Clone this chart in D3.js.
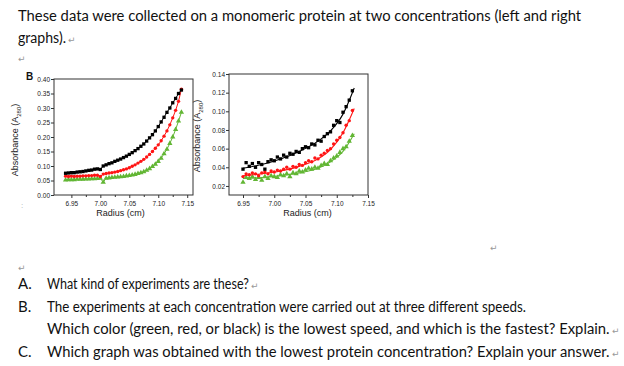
<!DOCTYPE html>
<html><head><meta charset="utf-8">
<script src="https://cdn.jsdelivr.net/npm/d3@7"></script>
<style>
html,body{margin:0;padding:0;background:#fff;}
svg{display:block;}
</style></head>
<body>
<svg id="page" width="624" height="366"></svg>
<script>
// ---- left graph (higher concentration) ----
const left_radius = [6.940, 6.945, 6.950, 6.955, 6.960, 6.965, 6.970, 6.975, 6.980, 6.985,
    6.990, 6.995, 7.000, 7.005, 7.010, 7.015, 7.020, 7.025, 7.030, 7.035,
    7.040, 7.045, 7.050, 7.055, 7.060, 7.065, 7.070, 7.075, 7.080, 7.085,
    7.090, 7.095, 7.100, 7.105, 7.110, 7.115, 7.120, 7.125, 7.130, 7.135, 7.140];
const left_black = [0.075, 0.076, 0.077, 0.077, 0.079, 0.080, 0.081, 0.083, 0.085, 0.086,
    0.089, 0.090, 0.088, 0.100, 0.104, 0.108, 0.111, 0.116, 0.120, 0.124,
    0.129, 0.134, 0.140, 0.146, 0.153, 0.160, 0.168, 0.176, 0.186, 0.197,
    0.208, 0.221, 0.236, 0.252, 0.268, 0.285, 0.300, 0.318, 0.333, 0.350, 0.362];
const left_red = [0.065, 0.064, 0.065, 0.064, 0.065, 0.065, 0.066, 0.066, 0.067, 0.067,
    0.068, 0.068, 0.064, 0.072, 0.074, 0.076, 0.077, 0.079, 0.081, 0.084,
    0.087, 0.090, 0.094, 0.099, 0.104, 0.110, 0.116, 0.123, 0.131, 0.140,
    0.150, 0.161, 0.173, 0.187, 0.203, 0.221, 0.242, 0.266, 0.292, 0.323, 0.365];
const left_green = [0.052, 0.053, 0.053, 0.053, 0.054, 0.054, 0.054, 0.055, 0.055, 0.056,
    0.056, 0.057, 0.058, 0.044, 0.058, 0.059, 0.060, 0.061, 0.062, 0.063,
    0.064, 0.066, 0.067, 0.069, 0.071, 0.074, 0.077, 0.080, 0.085, 0.091,
    0.098, 0.106, 0.116, 0.127, 0.142, 0.158, 0.178, 0.200, 0.226, 0.255, 0.285];
const left_y_ticks = [0.00, 0.05, 0.10, 0.15, 0.20, 0.25, 0.30, 0.35, 0.40];

// ---- right graph (lower concentration) ----
const right_radius = [6.950, 6.955, 6.960, 6.965, 6.970, 6.975, 6.980, 6.985, 6.990, 6.995,
    7.000, 7.005, 7.010, 7.015, 7.020, 7.025, 7.030, 7.035, 7.040, 7.045,
    7.050, 7.055, 7.060, 7.065, 7.070, 7.075, 7.080, 7.085, 7.090, 7.095,
    7.100, 7.105, 7.110, 7.115, 7.120, 7.125];
const right_black = [0.038, 0.045, 0.041, 0.044, 0.040, 0.045, 0.043, 0.038, 0.046, 0.048,
    0.047, 0.051, 0.049, 0.053, 0.051, 0.055, 0.054, 0.057, 0.056, 0.060,
    0.062, 0.061, 0.065, 0.064, 0.069, 0.068, 0.073, 0.076, 0.078, 0.085,
    0.090, 0.088, 0.099, 0.105, 0.112, 0.122];
const right_red = [0.030, 0.033, 0.032, 0.034, 0.033, 0.031, 0.034, 0.035, 0.033, 0.036,
    0.035, 0.037, 0.036, 0.038, 0.040, 0.038, 0.041, 0.040, 0.043, 0.042,
    0.045, 0.047, 0.046, 0.050, 0.049, 0.053, 0.055, 0.058, 0.060, 0.065,
    0.069, 0.072, 0.077, 0.085, 0.090, 0.101];
const right_green = [0.024, 0.029, 0.028, 0.030, 0.027, 0.029, 0.026, 0.030, 0.028, 0.031,
    0.030, 0.029, 0.032, 0.031, 0.033, 0.030, 0.034, 0.033, 0.036, 0.035,
    0.037, 0.039, 0.038, 0.040, 0.039, 0.042, 0.044, 0.043, 0.047, 0.050,
    0.052, 0.056, 0.060, 0.062, 0.068, 0.074];
// fitted curves drawn through the right graph points
const fit_radius = [6.950, 6.980, 7.010, 7.040, 7.070, 7.090, 7.110, 7.128];
const fit_black = [0.039, 0.043, 0.049, 0.057, 0.068, 0.079, 0.097, 0.125];
const fit_red = [0.031, 0.033, 0.036, 0.041, 0.049, 0.059, 0.077, 0.103];
const fit_green = [0.028, 0.029, 0.031, 0.034, 0.039, 0.046, 0.057, 0.076];
const right_y_ticks = [0.02, 0.04, 0.06, 0.08, 0.10, 0.12, 0.14];

const x_ticks = [6.95, 7.00, 7.05, 7.10, 7.15];
const x_minor = [6.975, 7.025, 7.075, 7.125];

const col_black = '#000000', col_red = '#ff1414', col_green = '#62b634';

const svg = d3.select('#page');
const body_font = "Lato, 'Open Sans', sans-serif";
const fig_font = "'Liberation Sans', Arial, sans-serif";

function add_mark(x, y){
    svg.append('text')
        .attr('x', x)
        .attr('y', y)
        .text('\u21B5')
        .style('font-family', 'DejaVu Sans')
        .style('font-size', '9px')
        .style('fill', '#999');
}
// paragraph text squeezed to the width it has in the reference (Calibri is narrower than Lato)
function add_text(txt, x, y, w, mark){
    const t = svg.append('text')
        .text(txt)
        .style('font-family', body_font)
        .style('font-size', '15px')
        .style('fill', '#111');
    let sx = 1;
    if (w){
        sx = w / t.node().getComputedTextLength();
    }
    t.attr('transform', `translate(${x},${y}) scale(${sx},1)`);
    if (mark){
        add_mark(x + w + 2, y);
    }
}

function draw_panel(p){
    const x = d3.scaleLinear().domain(p.x_domain).range([p.left, p.right]);
    const y = d3.scaleLinear().domain(p.y_domain).range([p.bottom, p.top]);
    const g = svg.append('g');

    g.append('g')
        .attr('transform', `translate(${p.left},0)`)
        .call(d3.axisLeft(y).tickValues(p.y_ticks).tickSize(3).tickPadding(1).tickFormat(d3.format('.2f')));
    g.append('g')
        .attr('transform', `translate(0,${p.bottom})`)
        .call(d3.axisBottom(x).tickValues(x_ticks).tickSize(3).tickPadding(3).tickFormat(d3.format('.2f')));
    g.append('g')
        .attr('transform', `translate(0,${p.bottom})`)
        .call(d3.axisBottom(x).tickValues(x_minor).tickSize(2).tickFormat(''));
    g.selectAll('.domain').remove();
    g.selectAll('.tick line').style('stroke', '#333');
    g.selectAll('.tick text')
        .style('font-family', fig_font)
        .style('font-size', '6.5px')
        .style('fill', '#222');

    g.append('rect')
        .attr('x', p.left)
        .attr('y', p.top)
        .attr('width', p.right - p.left)
        .attr('height', p.bottom - p.top)
        .style('fill', 'none')
        .style('stroke', '#333')
        .style('stroke-width', 1);

    p.series.forEach(function(s){
        const pts = s.xs.map((d, i) => [d, s.ys[i]]);
        if (s.line_xs){
            const fit = s.line_xs.map((d, i) => [d, s.line_ys[i]]);
            g.append('path')
                .datum(fit)
                .attr('d', d3.line().x(d => x(d[0])).y(d => y(d[1])).curve(d3.curveMonotoneX))
                .style('fill', 'none')
                .style('stroke', s.color)
                .style('stroke-width', 1.1);
        }
        else{
            g.append('path')
                .datum(pts)
                .attr('d', d3.line().x(d => x(d[0])).y(d => y(d[1])))
                .style('fill', 'none')
                .style('stroke', s.color)
                .style('stroke-width', 1);
        }
        g.selectAll(null)
            .data(pts)
            .enter()
            .append('path')
            .attr('transform', d => `translate(${x(d[0])},${y(d[1])})`)
            .attr('d', d3.symbol().type(s.shape).size(s.size))
            .style('fill', s.color);
    });

    g.append('text')
        .attr('x', (p.left + p.right) / 2 + p.title_dx)
        .attr('y', 216)
        .attr('text-anchor', 'middle')
        .text('Radius (cm)')
        .style('font-family', fig_font)
        .style('font-size', '9px')
        .style('fill', '#222');

    const yl = g.append('text')
        .attr('transform', `translate(${p.ylab_x},${p.ylab_y}) rotate(-90)`)
        .attr('text-anchor', 'middle')
        .style('font-family', fig_font)
        .style('font-size', '9px')
        .style('fill', '#222');
    yl.append('tspan').text('Absorbance (A');
    yl.append('tspan').text('280').attr('baseline-shift', 'sub').style('font-size', '6px');
    yl.append('tspan').text(')');
}

// body text
add_text('These data were collected on a monomeric protein at two concentrations (left and right', 18, 21, 564);
add_text('graphs).', 18, 43, 48, true);
add_mark(18, 62);

draw_panel({
    left: 54, right: 193, top: 79, bottom: 195,
    x_domain: [6.92, 7.16], y_domain: [0, 0.40], y_ticks: left_y_ticks,
    title_dx: -3, ylab_x: 18, ylab_y: 140,
    series: [
        {xs: left_radius, ys: left_green, color: col_green, shape: d3.symbolTriangle, size: 12},
        {xs: left_radius, ys: left_red, color: col_red, shape: d3.symbolCircle, size: 9},
        {xs: left_radius, ys: left_black, color: col_black, shape: d3.symbolSquare, size: 11}
    ]
});
svg.append('text')
    .attr('x', 26)
    .attr('y', 80)
    .text('B')
    .style('font-family', fig_font)
    .style('font-weight', 'bold')
    .style('font-size', '10px')
    .style('fill', '#111');
svg.append('text')
    .attr('x', 21)
    .attr('y', 208)
    .text(':')
    .style('font-family', fig_font)
    .style('font-size', '8px')
    .style('fill', '#aaa');

draw_panel({
    left: 229, right: 368, top: 74, bottom: 195,
    x_domain: [6.9276, 7.15], y_domain: [0.0103, 0.14], y_ticks: right_y_ticks,
    title_dx: 9, ylab_x: 200, ylab_y: 136,
    series: [
        {xs: right_radius, ys: right_green, color: col_green, shape: d3.symbolTriangle, size: 12,
         line_xs: fit_radius, line_ys: fit_green},
        {xs: right_radius, ys: right_red, color: col_red, shape: d3.symbolCircle, size: 9,
         line_xs: fit_radius, line_ys: fit_red},
        {xs: right_radius, ys: right_black, color: col_black, shape: d3.symbolSquare, size: 11,
         line_xs: fit_radius, line_ys: fit_black}
    ]
});

// questions
add_mark(490, 251);
add_mark(18, 271);
add_text('A.', 18, 289);
add_text('What kind of experiments are these?', 47, 289, 202, true);
add_text('B.', 18, 312);
add_text('The experiments at each concentration were carried out at three different speeds.', 47, 312, 479);
add_text('Which color (green, red, or black) is the lowest speed, and which is the fastest? Explain.', 47, 334, 563, true);
add_text('C.', 18, 357);
add_text('Which graph was obtained with the lowest protein concentration? Explain your answer.', 47, 357, 563, true);
</script>
</body></html>
